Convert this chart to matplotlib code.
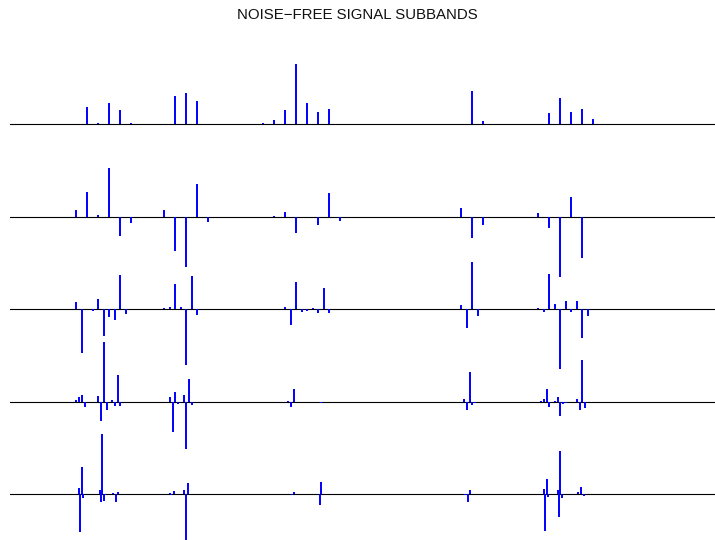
import numpy as np
import matplotlib
matplotlib.use("Agg")
import matplotlib.pyplot as plt

# subband coefficients (only the non-zero ones), index -> value
# row 1: approximation, 64 coefficients
a4_idx = [7, 8, 9, 10, 11, 15, 16, 17, 22, 23, 24, 25, 26, 27, 28, 29, 42, 43, 49, 50, 51, 52, 53]
a4_val = [17.7, 1.3, 21.3, 14, 1, 28, 31.6, 23.3, 0.5, 1.3, 4, 14.3, 60, 21, 12.3, 15.7, 33.6, 3.3,
          11.3, 26, 12.3, 15.6, 5]

# row 2: detail level 4, 64 coefficients
d4_idx = [6, 7, 8, 9, 10, 11, 14, 15, 16, 17, 18, 24, 25, 26, 28, 29, 30, 41, 42, 43, 48, 49, 50, 51, 52]
d4_val = [7, 25.3, 1.7, 48.7, -19, -6, 7, -34, -49.7, 32.7, -5, 0.7, 5, -15.7, -8, 23.7, -3.7,
          9, -20.7, -8.3, 3.7, -10.7, -60, 20, -41]

# row 3: detail level 3, 128 coefficients
d3_idx = [12, 13, 15, 16, 17, 18, 19, 20, 21, 28, 29, 30, 31, 32, 33, 34, 50, 51, 52, 53, 54, 55, 56,
          57, 58, 82, 83, 84, 85, 96, 97, 98, 99, 100, 101, 102, 103, 104, 105]
d3_val = [7.3, -43.3, -1.3, 10.7, -27, -7.7, -10.3, 34, -5, 1.3, 2, 25.7, 2, -55.3, 33.3, -5.7,
          2.7, -15.7, 27.7, -3, -1.3, 1.3, -3.3, 21.7, -3.7, 4.3, -18.7, 47.5, -7,
          1.3, -2.3, 35.3, 5.3, -59.7, 8, -3, 8, -28.7, -6.7]

# row 4: detail level 2, 256 coefficients
d2_idx = [24, 25, 26, 27, 28, 32, 33, 34, 35, 37, 38, 39, 40, 58, 59, 60, 61, 63, 64, 65, 66,
          101, 102, 103, 113, 165, 166, 167, 168, 169, 193, 194, 195, 196, 198, 199, 200, 201, 202,
          206, 207, 208, 209]
d2_val = [1.3, 4.3, 6.3, -5.7, -0.7, 5.3, -19.3, 60, -8.7, 2, -4.3, 26.3, -4.3,
          4.7, -30, 9.3, -2, 6.7, -47.7, 22.3, -3.3, 0.7, -5.7, 12.3, -1,
          2.3, -8.7, 29.7, -3.7, -1, 0.7, 2.7, 12.7, -5, 1, 4.3, -14.3, -2, -1.7,
          3, -8.7, 41.7, -6.3]

# row 5: detail level 1, 512 coefficients
d1_idx = [50, 51, 52, 53, 65, 66, 67, 68, 69, 75, 77, 78, 116, 117, 119, 126, 128, 129, 205, 206,
          225, 226, 331, 333, 334, 388, 389, 390, 391, 398, 399, 400, 401, 413, 415, 417]
d1_val = [6, -38, 27.6, -4, 4.3, -8, 60, -7, -1, 1, -8, 2, 1, -1, 3, 4.3, -46, 11, -1, 2,
          -10.7, 12, -1, -7.3, 4.3, 5.7, -36.7, 15.3, -2.7, 4.3, -23, 43.3, -4, 2, 7.7, -2]

bands = [(a4_idx, a4_val, 64), (d4_idx, d4_val, 64), (d3_idx, d3_val, 128),
         (d2_idx, d2_val, 256), (d1_idx, d1_val, 512)]
baselines = [124.3, 217.0, 309.3, 401.7, 494.3]  # pixel rows of the zero lines

W, H = 715, 540
fig = plt.figure(figsize=(W / 100, H / 100), dpi=100)
fig.text(0.5, 1 - 14.7 / H, "NOISE\u2212FREE SIGNAL SUBBANDS", ha="center", va="center",
         fontsize=10.8, family=["Liberation Sans", "DejaVu Sans"], color="#111111")

half = 46.25
left = 10.3
for (idx, val, n), yb in zip(bands, baselines):
    ax = fig.add_axes([left / W, (H - yb - half) / H, (W - left) / W, 2 * half / H])
    x = np.array(idx) * 64.0 / n
    ax.axhline(0, color="black", lw=0.8, clip_on=False)
    ax.vlines(x, 0, val, color="blue", lw=1.4, clip_on=False)
    ax.set_xlim(0, (W - left) / 11.0)
    ax.set_ylim(-half, half)
    ax.axis("off")

fig.savefig("out.png", dpi=100)
